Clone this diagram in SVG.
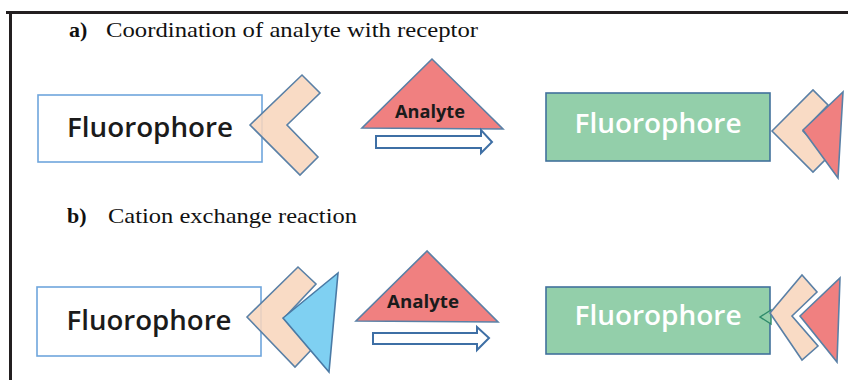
<svg xmlns="http://www.w3.org/2000/svg" width="848" height="380" viewBox="0 0 848 380">
<style>
.frame{stroke:#231f20;stroke-width:3;fill:none}
.title{font-family:"Liberation Serif","Times New Roman",serif;font-size:22px;fill:#111}
.lbl{font-weight:bold}
.wbox{fill:#fff;stroke:#6fa6dc;stroke-width:1.6}
.gbox{fill:#93cfaa;stroke:#41719c;stroke-width:1.6}
.ftxt{font-family:"Open Sans","Noto Sans",sans-serif;font-size:27px;font-weight:600;text-anchor:middle}
.dark{fill:#1b1b1b}
.light{fill:#fff}
.chev{fill:#f8d6bd;fill-opacity:0.88;stroke:#5a80a6;stroke-width:1.6;stroke-linejoin:miter}
.red{fill:#f08080;stroke:#5a80a6;stroke-width:1.6}
.blue{fill:#7fd0f2;stroke:#4a7aa5;stroke-width:1.6}
.atxt{font-family:"Open Sans","Noto Sans",sans-serif;font-size:17px;font-weight:bold;fill:#1b1b1b;text-anchor:middle}
.harrow{fill:#fff;stroke:#3e6fa5;stroke-width:2}
</style>
<g id="frame">
<line class="frame" x1="6" y1="12.5" x2="848" y2="12.5"/>
<line class="frame" x1="10.5" y1="11" x2="10.5" y2="380"/>
</g>
<g id="title-a">
<text class="title lbl" x="69" y="37">a)</text>
<text class="title" x="106" y="37" textLength="372" lengthAdjust="spacingAndGlyphs">Coordination of analyte with receptor</text>
</g>
<g id="title-b">
<text class="title lbl" x="67" y="223">b)</text>
<text class="title" x="108" y="223" textLength="249" lengthAdjust="spacingAndGlyphs">Cation exchange reaction</text>
</g>

<g id="a-fluorophore">
<rect class="wbox" x="38" y="95" width="224" height="67"/>
<text class="ftxt dark" x="150" y="137" textLength="166" lengthAdjust="spacingAndGlyphs">Fluorophore</text>
</g>
<g id="a-receptor">
<polygon class="chev" points="250,125 302,75 320,93 287,125 318,157 300,175"/>
</g>
<g id="a-analyte">
<polygon class="red" points="432,59 362,128 503,129"/>
<text class="atxt" x="430" y="118" textLength="70" lengthAdjust="spacingAndGlyphs">Analyte</text>
</g>
<g id="a-complex">
<rect class="gbox" x="546" y="93" width="224" height="68"/>
<text class="ftxt light" x="658" y="133" textLength="167" lengthAdjust="spacingAndGlyphs">Fluorophore</text>
<polygon class="chev" points="772,131 813,90 828,105 803,131 828,157 813,172"/>
<polygon class="red" points="803,130 843,92 838,178"/>
</g>

<g id="b-fluorophore">
<rect class="wbox" x="37" y="287" width="224" height="69"/>
<text class="ftxt dark" x="149" y="330" textLength="165" lengthAdjust="spacingAndGlyphs">Fluorophore</text>
</g>
<g id="b-receptor-cation">
<polygon class="chev" points="247,317 298,267 316,284 285,317 313,348 295,367"/>
<polygon class="blue" points="283,318 338,273 329,372"/>
</g>
<g id="b-analyte">
<polygon class="red" points="427,251 356,321 498,322"/>
<text class="atxt" x="423" y="308" textLength="72" lengthAdjust="spacingAndGlyphs">Analyte</text>
</g>
<g id="b-complex">
<rect class="gbox" x="546" y="287" width="224" height="67"/>
<text class="ftxt light" x="658" y="325" textLength="167" lengthAdjust="spacingAndGlyphs">Fluorophore</text>
<polygon fill="#93cfaa" stroke="#2e8a6a" stroke-width="1.4" points="760,317 771,310 771,324"/>
<polygon class="chev" points="770,313 802,275 817,292 792,316 818,346 802,360"/>
<polygon class="red" points="800,316 840,278 837,362" style="stroke:#fff;stroke-width:4"/>
<polygon class="red" points="800,316 840,278 837,362"/>
</g>

<g id="connectors">
<polygon class="harrow" points="376,136 481,136 481,130 492,142 481,153 481,148 376,148"/>
<polygon class="harrow" points="373,333 477,333 477,327 489,338 477,350 477,344 373,344"/>
</g>
</svg>
